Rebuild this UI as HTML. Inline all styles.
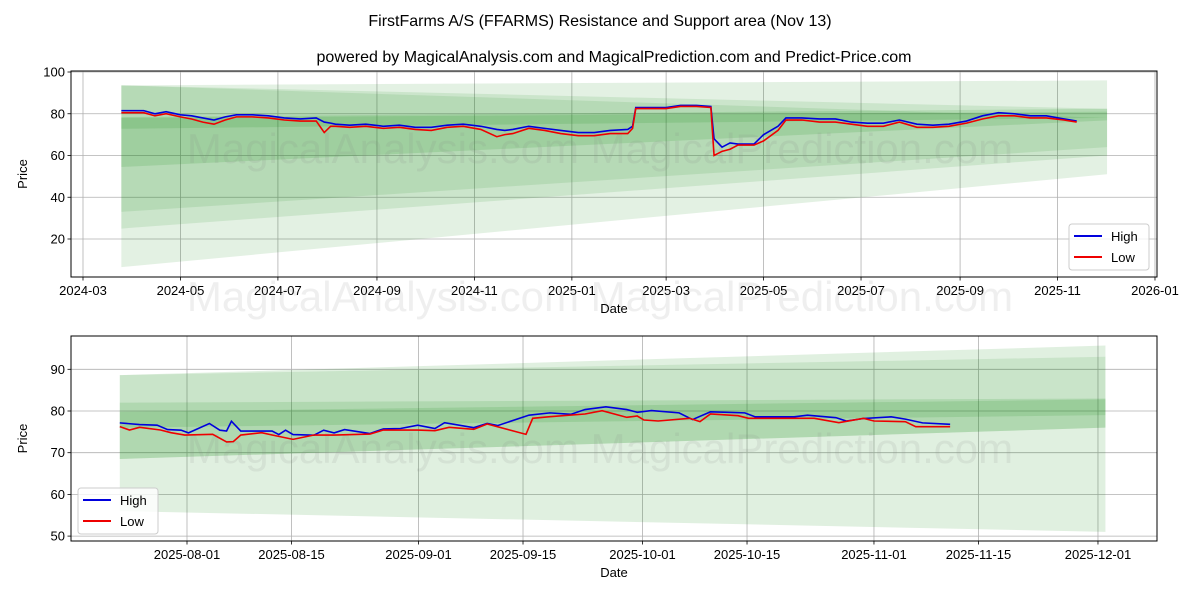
<!DOCTYPE html>
<html><head><meta charset="utf-8"><style>
html,body{margin:0;padding:0;background:#fff;}
svg{display:block;font-family:"Liberation Sans","DejaVu Sans",sans-serif;}
</style></head><body>
<svg id="chart" width="1200" height="600" viewBox="0 0 1200 600" xmlns="http://www.w3.org/2000/svg">
<rect width="1200" height="600" fill="#fff"/>
<text x="600" y="26" text-anchor="middle" font-size="16">FirstFarms A/S (FFARMS) Resistance and Support area (Nov 13)</text>
<text x="614" y="62" text-anchor="middle" font-size="16">powered by MagicalAnalysis.com and MagicalPrediction.com and Predict-Price.com</text>
<g id="top"></g>
<g id="bot"></g>
</svg>
<script>
// ---- top chart data ----
const topDates = ['2024-03-25','2024-04-08','2024-04-15','2024-04-22','2024-05-01','2024-05-08','2024-05-15','2024-05-22','2024-05-29','2024-06-05','2024-06-15','2024-06-25','2024-07-05','2024-07-15','2024-07-25','2024-07-30','2024-08-03','2024-08-06','2024-08-15','2024-08-25','2024-09-05','2024-09-15','2024-09-25','2024-10-05','2024-10-15','2024-10-25','2024-11-05','2024-11-15','2024-11-20','2024-11-25','2024-12-05','2024-12-15','2024-12-25','2025-01-05','2025-01-15','2025-01-25','2025-02-05','2025-02-08','2025-02-10','2025-02-20','2025-03-01','2025-03-10','2025-03-20','2025-03-29','2025-03-31','2025-04-05','2025-04-10','2025-04-15','2025-04-25','2025-05-01','2025-05-10','2025-05-15','2025-05-25','2025-06-05','2025-06-15','2025-06-25','2025-07-05','2025-07-15','2025-07-25','2025-08-05','2025-08-15','2025-08-25','2025-09-05','2025-09-15','2025-09-25','2025-10-05','2025-10-15','2025-10-25','2025-11-05','2025-11-13'];
const topHigh = [81.5,81.5,80,81,79.5,79,78,77,78.5,79.5,79.5,79,78,77.5,78,76,75.5,75,74.5,75,74,74.5,73.5,73.5,74.5,75,74,72.5,72,72.5,74,73,72,71,71,72,72.5,74,83,83,83,84,84,83.5,68,64,66,65.5,65.5,70,74,78,78,77.5,77.5,76,75.5,75.5,77,75,74.5,75,76.5,79,80.5,80,79,79,77.5,76.5];
const topLow = [80.5,80.5,79,80,78.5,77.5,76,75,77,78.5,78.5,78,77,76.5,76.5,71,74,74,73.5,74,73,73.5,72.5,72,73.5,74,72.5,69,70,70.5,73,72,70.5,69.5,69.5,70.5,70.5,73,82.5,82.5,82.5,83.5,83.5,83,60,62,63,65,65,67,72,77,77,76,76,75,74,74,76,73.5,73.5,74,75.5,77.5,79,79,78,78,77,76];
const topBandDates = ['2024-03-25','2025-12-02'];
const topBandStartHi = [93.6,93.6,93.6,78.4,78];
const topBandStartLo = [6.5,25,33,54.5,72.8];
const topBandEndHi = [96,82.4,78,82.4,81];
const topBandEndLo = [51,60,64,76.8,78];
const topAlphas = [0.11,0.1,0.1,0.12,0.12];
const topYTicks = [20,40,60,80,100];
const topXTicks = ['2024-03','2024-05','2024-07','2024-09','2024-11','2025-01','2025-03','2025-05','2025-07','2025-09','2025-11','2026-01'];
// ---- bottom chart data (days from 2025-08-01) ----
const botDays = [-9,-6.35,-4,-2.6,-0.8,0.2,3,4.4,5.3,5.95,7.2,11.4,12.3,13.2,14.2,17,18.3,19.7,21.1,24.5,26.3,28.6,30.9,33.2,34.5,38.4,40.2,41.6,45.8,48.6,51.4,53.3,56.1,58.9,60.3,62.2,65.9,67.7,70.1,74.7,76.1,81.3,83.1,86.9,88.3,90.6,94.3,96.2,98.5,102.2];
const botHigh = [77.15,76.75,76.6,75.55,75.4,74.75,77,75.4,75.2,77.55,75.2,75.2,74.35,75.4,74.35,74.2,75.4,74.75,75.55,74.6,75.7,75.8,76.6,75.8,77.2,76,77,76.5,79,79.55,79.2,80.35,81,80.35,79.7,80.1,79.55,77.95,79.8,79.55,78.6,78.6,79,78.4,77.6,78.2,78.6,78.05,77.15,76.8];
const botLowDays = [-9,-7.7,-6.35,-3.55,-2.15,-0.3,3.44,5.3,6.2,7.2,10,11.4,14.2,17,19.7,24.5,26.3,30.9,33.2,35.1,38.4,40.2,45.4,46.3,48.6,53.3,55.6,58.9,60.3,61.2,63.1,67.3,68.7,70.1,73.8,75.2,81.7,84,87.3,90.6,92,96.2,97.6,102.2];
const botLow = [76.24,75.44,76.08,75.44,74.8,74.24,74.4,72.57,72.65,74.24,74.8,74.24,73.2,74.24,74.24,74.48,75.44,75.44,75.28,76.08,75.6,76.88,74.4,78.25,78.64,79.28,80.08,78.48,78.8,77.84,77.6,78.25,77.44,79.28,78.88,78.25,78.25,78.25,77.2,78.25,77.6,77.44,76.24,76.24];
const botBandDays = [-9,123];
const botBandStartHi = [88.6,88.6,82,79.8];
const botBandStartLo = [56,68.5,68.5,76];
const botBandEndHi = [95.7,93,83,82.8];
const botBandEndLo = [51,76,76,79];
const botAlphas = [0.12,0.1,0.12,0.12];
const botYTicks = [50,60,70,80,90];
const botXTicks = ['2025-08-01','2025-08-15','2025-09-01','2025-09-15','2025-10-01','2025-10-15','2025-11-01','2025-11-15','2025-12-01'];

const NS='http://www.w3.org/2000/svg';
function mk(parent,tag,attrs,text){const e=document.createElementNS(NS,tag);for(const k in attrs)e.setAttribute(k,attrs[k]);if(text!==undefined)e.textContent=text;parent.appendChild(e);return e;}
function dayNum(s){const p=s.split('-').map(Number);return Date.UTC(p[0],p[1]-1,p[2]||1)/86400000;}

function panel(g,box,xOf,yOf,yTicks,xTicks,xTickVal,xTickLbl,bands,hx,hy,lx,ly,legendPos,wmY){
  const [L,T,R,B]=box;
  yTicks.forEach(v=>{const y=yOf(v);
    const gl=mk(g,'line',{x1:L,x2:R,y1:y,y2:y,stroke:'#b0b0b0','stroke-width':0.8});
    
    
    mk(g,'line',{x1:L-3.5,x2:L,y1:y,y2:y,stroke:'#000','stroke-width':0.8});
    const t=mk(g,'text',{x:L-6,y:y+4.5,'text-anchor':'end','font-size':13},String(v));
    
    
  });
  xTicks.forEach(s=>{const x=xOf(xTickVal(s));
    const gl=mk(g,'line',{x1:x,x2:x,y1:T,y2:B,stroke:'#b0b0b0','stroke-width':0.8});
    
    
    mk(g,'line',{x1:x,x2:x,y1:B,y2:B+3.5,stroke:'#000','stroke-width':0.8});
    const t=mk(g,'text',{x:x,y:B+18,'text-anchor':'middle','font-size':13},xTickLbl(s));
    
    
  });
  bands.forEach(b=>{
    const p=mk(g,'polygon',{points:`${b.x0},${yOf(b.sh)} ${b.x1},${yOf(b.eh)} ${b.x1},${yOf(b.el)} ${b.x0},${yOf(b.sl)}`,fill:'rgb(0,128,0)','fill-opacity':b.a});
    
    
  });
  wmY.forEach(y=>{
    const w=mk(g,'text',{x:600,y:y,'text-anchor':'middle','font-size':42,fill:'#808080','fill-opacity':0.13},'MagicalAnalysis.com   MagicalPrediction.com');
    
    
  });
  const hl=mk(g,'polyline',{points:hx.map((x,i)=>xOf(x)+','+yOf(hy[i])).join(' '),fill:'none',stroke:'#0000dd','stroke-width':1.6});
  
  
  const ll=mk(g,'polyline',{points:lx.map((x,i)=>xOf(x)+','+yOf(ly[i])).join(' '),fill:'none',stroke:'#ee0000','stroke-width':1.6});
  
  
  const fr=mk(g,'rect',{x:L,y:T,width:R-L,height:B-T,fill:'none',stroke:'#000','stroke-width':1});
  
  
  const [gx,gy]=legendPos;
  const lg=mk(g,'g',{});
  
  
  mk(lg,'rect',{x:gx,y:gy,width:80,height:46,rx:3,fill:'#fff','fill-opacity':0.8,stroke:'#ccc'});
  const e1=mk(lg,'g',{});
  
  
  mk(e1,'line',{x1:gx+5,x2:gx+33,y1:gy+12,y2:gy+12,stroke:'#0000dd','stroke-width':2});
  mk(e1,'text',{x:gx+42,y:gy+17,'font-size':13},'High');
  const e2=mk(lg,'g',{});
  
  
  mk(e2,'line',{x1:gx+5,x2:gx+33,y1:gy+33,y2:gy+33,stroke:'#ee0000','stroke-width':2});
  mk(e2,'text',{x:gx+42,y:gy+38,'font-size':13},'Low');
  const yt=mk(g,'text',{x:0,y:0,'font-size':13,'text-anchor':'middle',transform:`translate(${L-44},${(T+B)/2}) rotate(-90)`},'Price');
  
  
  const xt=mk(g,'text',{x:(L+R)/2,y:B+36,'font-size':13,'text-anchor':'middle'},'Date');
  
  
}

(function(){
  const d0=dayNum('2024-03-01');
  const xOf=d=>83+(d-d0)*1.5976;
  const yOf=v=>72+(100-v)*2.0875;
  const bx0=xOf(dayNum(topBandDates[0])), bx1=xOf(dayNum(topBandDates[1]));
  const bands=topBandStartHi.map((v,i)=>({x0:bx0,x1:bx1,sh:v,sl:topBandStartLo[i],eh:topBandEndHi[i],el:topBandEndLo[i],a:topAlphas[i]}));
  panel(document.getElementById('top'),[71,71,1157,277],xOf,yOf,topYTicks,topXTicks,s=>dayNum(s+'-01'),s=>s,bands,
    topDates.map(dayNum),topHigh,topDates.map(dayNum),topLow,[1069,224],[163,311]);
})();
(function(){
  const xOf=d=>187+d*7.467;
  const yOf=v=>369.3+(90-v)*4.17;
  const bx0=xOf(botBandDays[0]), bx1=xOf(botBandDays[1]);
  const d0=dayNum('2025-08-01');
  const bands=botBandStartHi.map((v,i)=>({x0:bx0,x1:bx1,sh:v,sl:botBandStartLo[i],eh:botBandEndHi[i],el:botBandEndLo[i],a:botAlphas[i]}));
  panel(document.getElementById('bot'),[71,336,1157,541],xOf,yOf,botYTicks,botXTicks,s=>dayNum(s)-d0,s=>s,bands,
    botDays,botHigh,botLowDays,botLow,[78,488],[463]);
})();
</script>
</body></html>
